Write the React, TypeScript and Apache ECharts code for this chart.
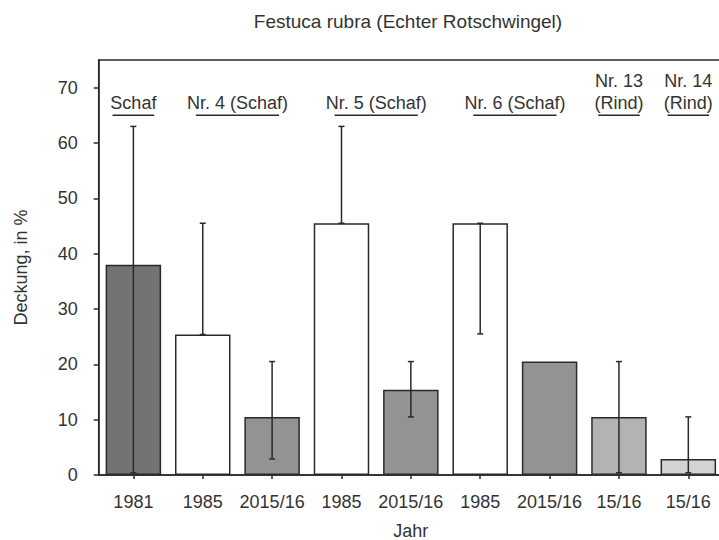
import React, { useEffect, useRef } from "react";
import * as echarts from "echarts";

const categories = ["1981", "1985", "2015/16", "1985", "2015/16", "1985", "2015/16", "15/16", "15/16"];
const means = [38, 25.4, 10.5, 45.5, 15.4, 45.5, 20.5, 10.5, 2.9];
const errLow: (number | null)[] = [0.4, 25.4, 2.9, 45.5, 10.5, 25.5, null, 0.4, 0.4];
const errHigh: (number | null)[] = [63, 45.5, 20.5, 63, 20.5, 45.5, null, 20.5, 10.5];
const groupLabels = ["Schaf", "Nr. 4 (Schaf)", "Nr. 5 (Schaf)", "Nr. 6 (Schaf)", "Nr. 13\n(Rind)", "Nr. 14\n(Rind)"];
const groupStart = [0, 1, 3, 5, 7, 8];
const groupEnd = [0, 2, 4, 6, 7, 8];
const groupLineValue = 65;
const yTicks = [0, 10, 20, 30, 40, 50, 60, 70];

const barColors = ["#737373", "#ffffff", "#939393", "#ffffff", "#939393", "#ffffff", "#939393", "#b3b3b3", "#d3d3d3"];
const FONT = "'Liberation Sans', Arial, sans-serif";
const TEXT = "#333333";
const LINE = "#2a2a2a";

export default function App() {
  const ref = useRef<HTMLDivElement>(null);
  useEffect(() => {
    if (!ref.current) return;
    const chart = echarts.init(ref.current, null, { renderer: "svg" });
    const errData = categories
      .map((_, i) => [i, errLow[i], errHigh[i]])
      .filter((d) => d[1] !== null && d[2] !== null);
    const option: any = {
      animation: false,
      backgroundColor: "#ffffff",
      textStyle: { fontFamily: FONT },
      graphic: [
        {
          type: "text",
          x: 408,
          y: 21,
          style: {
            text: "Festuca rubra (Echter Rotschwingel)",
            font: `19px ${FONT}`,
            fill: TEXT,
            textAlign: "center",
            textVerticalAlign: "middle",
          },
        },
      ],
      grid: {
        left: 98.7,
        right: -4,
        top: 60,
        bottom: 65,
        show: true,
        borderColor: LINE,
        borderWidth: 1.5,
        containLabel: false,
        outerBoundsMode: "none",
      },
      xAxis: {
        type: "category",
        data: categories,
        name: "Jahr",
        nameLocation: "middle",
        nameGap: 47,
        nameTextStyle: { fontSize: 18, color: TEXT, fontFamily: FONT },
        axisLine: { show: true, lineStyle: { color: LINE, width: 1.5 } },
        axisTick: { show: true, alignWithLabel: true, length: 4, lineStyle: { color: LINE, width: 1.5 } },
        axisLabel: { fontSize: 18, color: TEXT, margin: 18, fontFamily: FONT, interval: 0 },
        splitLine: { show: false },
      },
      yAxis: {
        type: "value",
        min: 0,
        max: 75,
        name: "Deckung, in %",
        nameLocation: "middle",
        nameGap: 69,
        nameTextStyle: { fontSize: 18, color: TEXT, fontFamily: FONT },
        axisLine: { show: true, lineStyle: { color: LINE, width: 1.5 } },
        axisTick: { show: true, length: 5, customValues: yTicks, lineStyle: { color: LINE, width: 1.5 } },
        axisLabel: { fontSize: 18, color: TEXT, margin: 21, fontFamily: FONT, customValues: yTicks },
        splitLine: { show: false },
      },
      series: [
        {
          type: "bar",
          data: means.map((v, i) => ({ value: v, itemStyle: { color: barColors[i] } })),
          barCategoryGap: "20%",
          itemStyle: { borderColor: LINE, borderWidth: 1.5 },
          z: 2,
        },
        {
          type: "custom",
          z: 5,
          data: errData,
          encode: { x: 0, y: [1, 2] },
          renderItem: (params: any, api: any) => {
            const i = api.value(0);
            const lo = api.coord([i, api.value(1)]);
            const hi = api.coord([i, api.value(2)]);
            const c = 3;
            const st = { stroke: LINE, lineWidth: 1.5 };
            return {
              type: "group",
              children: [
                { type: "line", shape: { x1: lo[0], y1: lo[1], x2: hi[0], y2: hi[1] }, style: st },
                { type: "line", shape: { x1: lo[0] - c, y1: lo[1], x2: lo[0] + c, y2: lo[1] }, style: st },
                { type: "line", shape: { x1: hi[0] - c, y1: hi[1], x2: hi[0] + c, y2: hi[1] }, style: st },
              ],
            };
          },
        },
        {
          type: "custom",
          z: 5,
          data: groupLabels.map((_, g) => [groupStart[g], groupLineValue]),
          encode: { x: 0, y: 1 },
          renderItem: (params: any, api: any) => {
            const g = params.dataIndex;
            const s = api.coord([groupStart[g], groupLineValue]);
            const e = api.coord([groupEnd[g], groupLineValue]);
            const band = api.size([1, 0])[0];
            const cx = (s[0] + e[0]) / 2;
            const half = (e[0] - s[0] + band) * 0.3;
            return {
              type: "group",
              children: [
                {
                  type: "line",
                  shape: { x1: cx - half, y1: s[1], x2: cx + half, y2: s[1] },
                  style: { stroke: LINE, lineWidth: 1.5 },
                },
                {
                  type: "text",
                  x: cx,
                  y: s[1] - 1,
                  style: {
                    text: groupLabels[g],
                    font: `18px ${FONT}`,
                    fill: TEXT,
                    textAlign: "center",
                    textVerticalAlign: "bottom",
                    lineHeight: 22,
                  },
                },
              ],
            };
          },
        },
      ],
    };
    chart.setOption(option);
    return () => chart.dispose();
  }, []);
  return <div ref={ref} style={{ width: 719, height: 540, position: "absolute", left: 0, top: 0 }} />;
}
